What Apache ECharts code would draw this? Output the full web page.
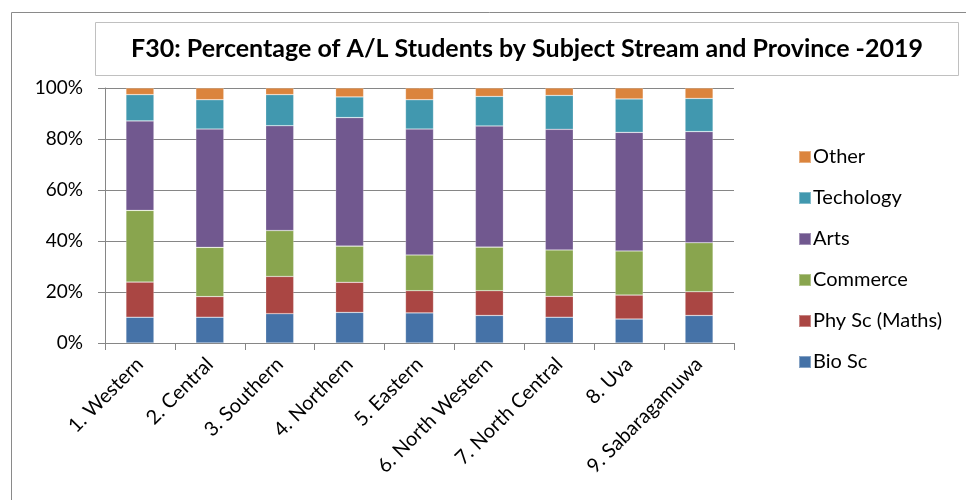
<!DOCTYPE html>
<html>
<head>
<meta charset="utf-8">
<script src="https://cdn.jsdelivr.net/npm/echarts@6/dist/echarts.min.js"></script>
<style>
  html, body { margin: 0; padding: 0; background: #fff; }
  #chart { width: 966px; height: 500px; }
</style>
</head>
<body>
<div id="chart"></div>
<script>
// provinces + stream shares (%)
const provinces = ['1. Western', '2. Central', '3. Southern', '4. Northern', '5. Eastern',
  '6. North Western', '7. North Central', '8. Uva', '9. Sabaragamuwa']
const bioSc    = [10.1, 10.1, 11.5, 12.0, 11.8, 10.8, 10.1,  9.4, 10.8]
const phySc    = [13.8,  8.1, 14.6, 11.8,  8.7,  9.7,  8.2,  9.4,  9.3]
const commerce = [28.1, 19.3, 18.0, 14.2, 14.0, 17.1, 18.2, 17.3, 19.2]
const arts     = [35.1, 46.4, 41.1, 50.4, 49.4, 47.5, 47.3, 46.5, 43.6]
const techology = [10.3, 11.5, 12.2, 8.1, 11.5, 11.6, 13.3, 13.1, 13.0]
const other    = [ 2.6,  4.6,  2.6,  3.5,  4.6,  3.3,  2.9,  4.3,  4.1]
const yTicks = [0, 20, 40, 60, 80, 100]

const FONT = 'Lato'
const streams = [
  { name: 'Bio Sc', data: bioSc, color: '#4572A7' },
  { name: 'Phy Sc (Maths)', data: phySc, color: '#AA4643' },
  { name: 'Commerce', data: commerce, color: '#89A54E' },
  { name: 'Arts', data: arts, color: '#71588F' },
  { name: 'Techology', data: techology, color: '#4198AF' },
  { name: 'Other', data: other, color: '#DB843D' }
]

const chart = echarts.init(document.getElementById('chart'))

const option = {
  backgroundColor: '#fff',
  animation: false,
  textStyle: { fontFamily: FONT },
  graphic: [
    // outer chart frame (runs off the right/bottom edge)
    { type: 'rect', shape: { x: 11.5, y: 12.5, width: 1000, height: 1000 },
      style: { fill: 'none', stroke: '#8a8a8a', lineWidth: 1 }, z: -1 },
    // title box
    { type: 'rect', shape: { x: 95.5, y: 22.5, width: 863, height: 53 },
      style: { fill: '#fff', stroke: '#c0c0c0', lineWidth: 1 }, z: 0 },
    { type: 'text', x: 527, y: 49, z: 1,
      style: { text: 'F30: Percentage of A/L Students by Subject Stream and Province -2019',
        fontFamily: FONT, fontWeight: 'bold', fontSize: 25, fill: '#000',
        textAlign: 'center', textVerticalAlign: 'middle' } }
  ],
  legend: {
    orient: 'vertical',
    left: 793,
    top: 142,
    icon: 'rect',
    itemWidth: 12,
    itemHeight: 12,
    itemGap: 21,
    data: streams.map(s => s.name).reverse(),
    textStyle: { fontFamily: FONT, fontSize: 20, color: '#000', lineHeight: 20, padding: [0, 0, 0, -3] }
  },
  grid: { left: 105, right: 232, top: 88, bottom: 157 },
  xAxis: {
    type: 'category',
    data: provinces,
    axisLine: { lineStyle: { color: '#868686' } },
    axisTick: { show: true, length: 7, lineStyle: { color: '#868686' } },
    axisLabel: { rotate: 45, fontFamily: FONT, fontSize: 20, color: '#000', margin: 18, interval: 0 }
  },
  yAxis: {
    type: 'value',
    min: 0,
    max: 100,
    interval: yTicks[1] - yTicks[0],
    axisLine: { show: true, lineStyle: { color: '#868686' } },
    axisTick: { show: true, length: 7, lineStyle: { color: '#868686' } },
    splitLine: { lineStyle: { color: '#868686', width: 1 } },
    axisLabel: { formatter: '{value}%', fontFamily: FONT, fontSize: 19, color: '#000', margin: 22 }
  },
  series: streams.map(s => ({
    name: s.name,
    type: 'bar',
    stack: 'total',
    barWidth: 28,
    data: s.data,
    itemStyle: { color: s.color, borderColor: 'rgba(255,255,255,0.35)', borderWidth: 0.6 }
  }))
}

chart.setOption(option)
</script>
</body>
</html>
